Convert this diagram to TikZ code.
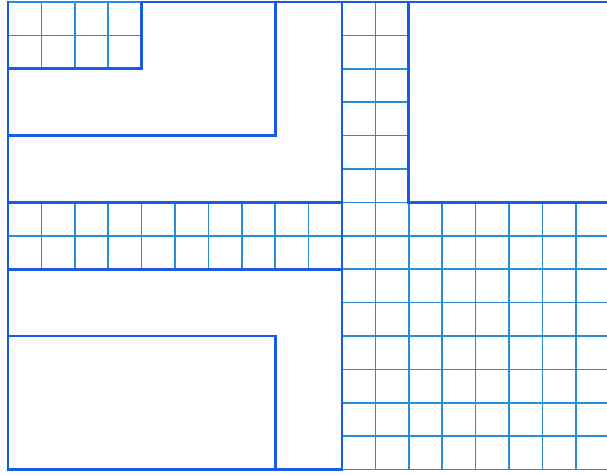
\documentclass[tikz,border=0pt]{standalone}
\definecolor{thickblue}{RGB}{22,92,228}
\definecolor{thinblue}{RGB}{40,140,215}
\tikzset{
  gridline/.style={draw=thinblue,line width=1.7pt},
  wall/.style={draw=thickblue,line width=2.8pt,line cap=rect,line join=miter}
}
\begin{document}
\begin{tikzpicture}[x=33.4pt,y=-33.4pt]
\useasboundingbox[fill=white] (-0.2395,-0.0599) rectangle (17.934,14.132);
% thin grid regions
% top-left 4x2
\foreach \i in {0,...,4} \draw[gridline] (\i,0) -- (\i,2);
\foreach \j in {0,1,2} \draw[gridline] (0,\j) -- (4,\j);
% top-middle 2x6
\foreach \i in {10,11,12} \draw[gridline] (\i,0) -- (\i,6);
\foreach \j in {0,...,6} \draw[gridline] (10,\j) -- (12,\j);
% middle band
\foreach \i in {0,...,18} \draw[gridline] (\i,6) -- (\i,8);
\foreach \j in {6,7,8} \draw[gridline] (0,\j) -- (18.5,\j);
% bottom-right
\foreach \i in {10,...,18} \draw[gridline] (\i,8) -- (\i,14);
\foreach \j in {8,...,14} \draw[gridline] (10,\j) -- (18.5,\j);
% thick walls
\draw[wall] (4,0) -- (18.5,0);
\draw[wall] (0,0) -- (0,14) -- (10,14);
\draw[wall] (0,2) -- (4,2) -- (4,0);
\draw[wall] (8,0) -- (8,4) -- (0,4);
\draw[wall] (10,0) -- (10,14);
\draw[wall] (12,0) -- (12,6) -- (18.5,6);
\draw[wall] (0,6) -- (10,6);
\draw[wall] (0,8) -- (10,8);
\draw[wall] (0,10) -- (8,10) -- (8,14);
\end{tikzpicture}
\end{document}
